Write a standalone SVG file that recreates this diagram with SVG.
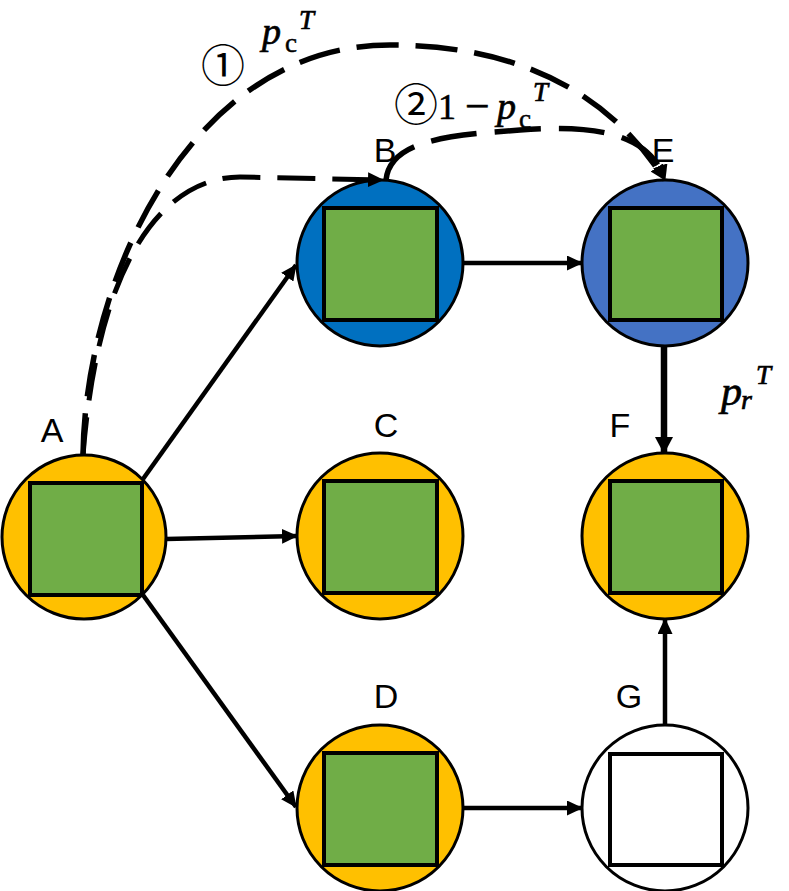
<svg xmlns="http://www.w3.org/2000/svg" width="789" height="891" viewBox="0 0 789 891">
<style>
.c{stroke:#000;stroke-width:3}
.sq{fill:#70AD47;stroke:#000;stroke-width:4}
.lbl{font-family:"Liberation Sans",Arial,sans-serif;font-size:34px;fill:#000;text-anchor:middle}
.ln{fill:none;stroke:#000;stroke-width:4.5}
.thick{fill:none;stroke:#000;stroke-width:6.5}
.d1{fill:none;stroke:#000;stroke-width:5.5;stroke-dasharray:42 17}
.d2{fill:none;stroke:#000;stroke-width:5;stroke-dasharray:38 17}
.d3{fill:none;stroke:#000;stroke-width:5.5;stroke-dasharray:46 18}
.mi{font-family:"Liberation Serif","Times New Roman",serif;font-style:italic;fill:#000;stroke:#000;stroke-width:0.7}
.mu{font-family:"Liberation Serif","Times New Roman",serif;fill:#000;stroke:#000;stroke-width:0.5}
.cn{font-family:"Noto Sans CJK SC","DejaVu Sans",sans-serif;font-size:44px;fill:#000;text-anchor:middle}
</style>
<defs>
<marker id="ah" markerUnits="userSpaceOnUse" markerWidth="17" markerHeight="15" refX="15" refY="7.5" orient="auto"><path d="M0,0 L16,7.5 L0,15 z" fill="#000"/></marker>
<marker id="ahb" markerUnits="userSpaceOnUse" markerWidth="19" markerHeight="18" refX="16" refY="9" orient="auto"><path d="M0,0 L17,9 L0,18 z" fill="#000"/></marker>
</defs>
<g id="nodeA"><circle class="c" cx="84" cy="537" r="82" fill="#FFC000"/><rect class="sq" x="30" y="483" width="112" height="112"/><text class="lbl" x="52" y="442">A</text></g>
<g id="nodeB"><circle class="c" cx="380" cy="263" r="83" fill="#0070C0"/><rect class="sq" x="324" y="208" width="113" height="112"/><text class="lbl" x="385" y="162">B</text></g>
<g id="nodeC"><circle class="c" cx="380" cy="536" r="83" fill="#FFC000"/><rect class="sq" x="324" y="481" width="113" height="112"/><text class="lbl" x="386" y="437">C</text></g>
<g id="nodeD"><circle class="c" cx="380" cy="808" r="83" fill="#FFC000"/><rect class="sq" x="324" y="753" width="113" height="112"/><text class="lbl" x="386" y="708">D</text></g>
<g id="nodeE"><circle class="c" cx="665" cy="263" r="83" fill="#4472C4"/><rect class="sq" x="610" y="208" width="112" height="112"/><text class="lbl" x="663" y="162">E</text></g>
<g id="nodeF"><circle class="c" cx="665" cy="536" r="83" fill="#FFC000"/><rect class="sq" x="610" y="481" width="112" height="112"/><text class="lbl" x="620" y="437">F</text></g>
<g id="nodeG"><circle class="c" cx="665" cy="808" r="83" fill="#FFFFFF"/><rect class="sq" x="610" y="754" width="112" height="111" style="fill:#fff"/><text class="lbl" x="629" y="708">G</text></g>
<g id="connectors">
<line class="ln" x1="143" y1="479" x2="296" y2="265" marker-end="url(#ah)"/>
<line class="ln" x1="166" y1="539" x2="297" y2="536" marker-end="url(#ah)"/>
<line class="ln" x1="143" y1="595" x2="296" y2="807" marker-end="url(#ah)"/>
<line class="ln" x1="463" y1="263" x2="582" y2="263" marker-end="url(#ah)"/>
<line class="ln" x1="463" y1="808" x2="582" y2="808" marker-end="url(#ah)"/>
<line class="ln" x1="665" y1="725" x2="665" y2="619" marker-end="url(#ah)"/>
<line class="thick" x1="664" y1="346" x2="664" y2="453" marker-end="url(#ahb)"/>
<path class="d1" d="M83,455 C85,280 190,45 390,45 C540,45 620,110 665,180" marker-end="url(#ah)"/>
<path class="d2" d="M83,455 C100,240 175,177 240,177 L383,180" marker-end="url(#ah)"/>
<path class="d3" d="M386,180 C390,140 450,135 520,130 C600,124 650,135 665,180" marker-end="url(#ah)"/>
</g>
<g id="labels">
<text class="cn" x="223" y="82">①</text>
<text class="mi" x="262" y="44" font-size="38">p</text>
<text class="mu" x="285" y="52" font-size="27">c</text>
<text class="mi" x="299" y="29" font-size="27">T</text>
<text class="cn" x="416" y="121">②</text>
<text class="mu" x="438" y="119" font-size="36">1</text>
<text class="mu" x="465" y="121" font-size="44">−</text>
<text class="mi" x="497" y="119" font-size="38">p</text>
<text class="mu" x="519" y="128" font-size="27">c</text>
<text class="mi" x="533" y="101" font-size="27">T</text>
<text class="mi" x="721" y="405" font-size="42">p</text>
<text class="mi" x="741" y="409" font-size="28">r</text>
<text class="mi" x="756" y="384" font-size="27">T</text>
</g>
</svg>
